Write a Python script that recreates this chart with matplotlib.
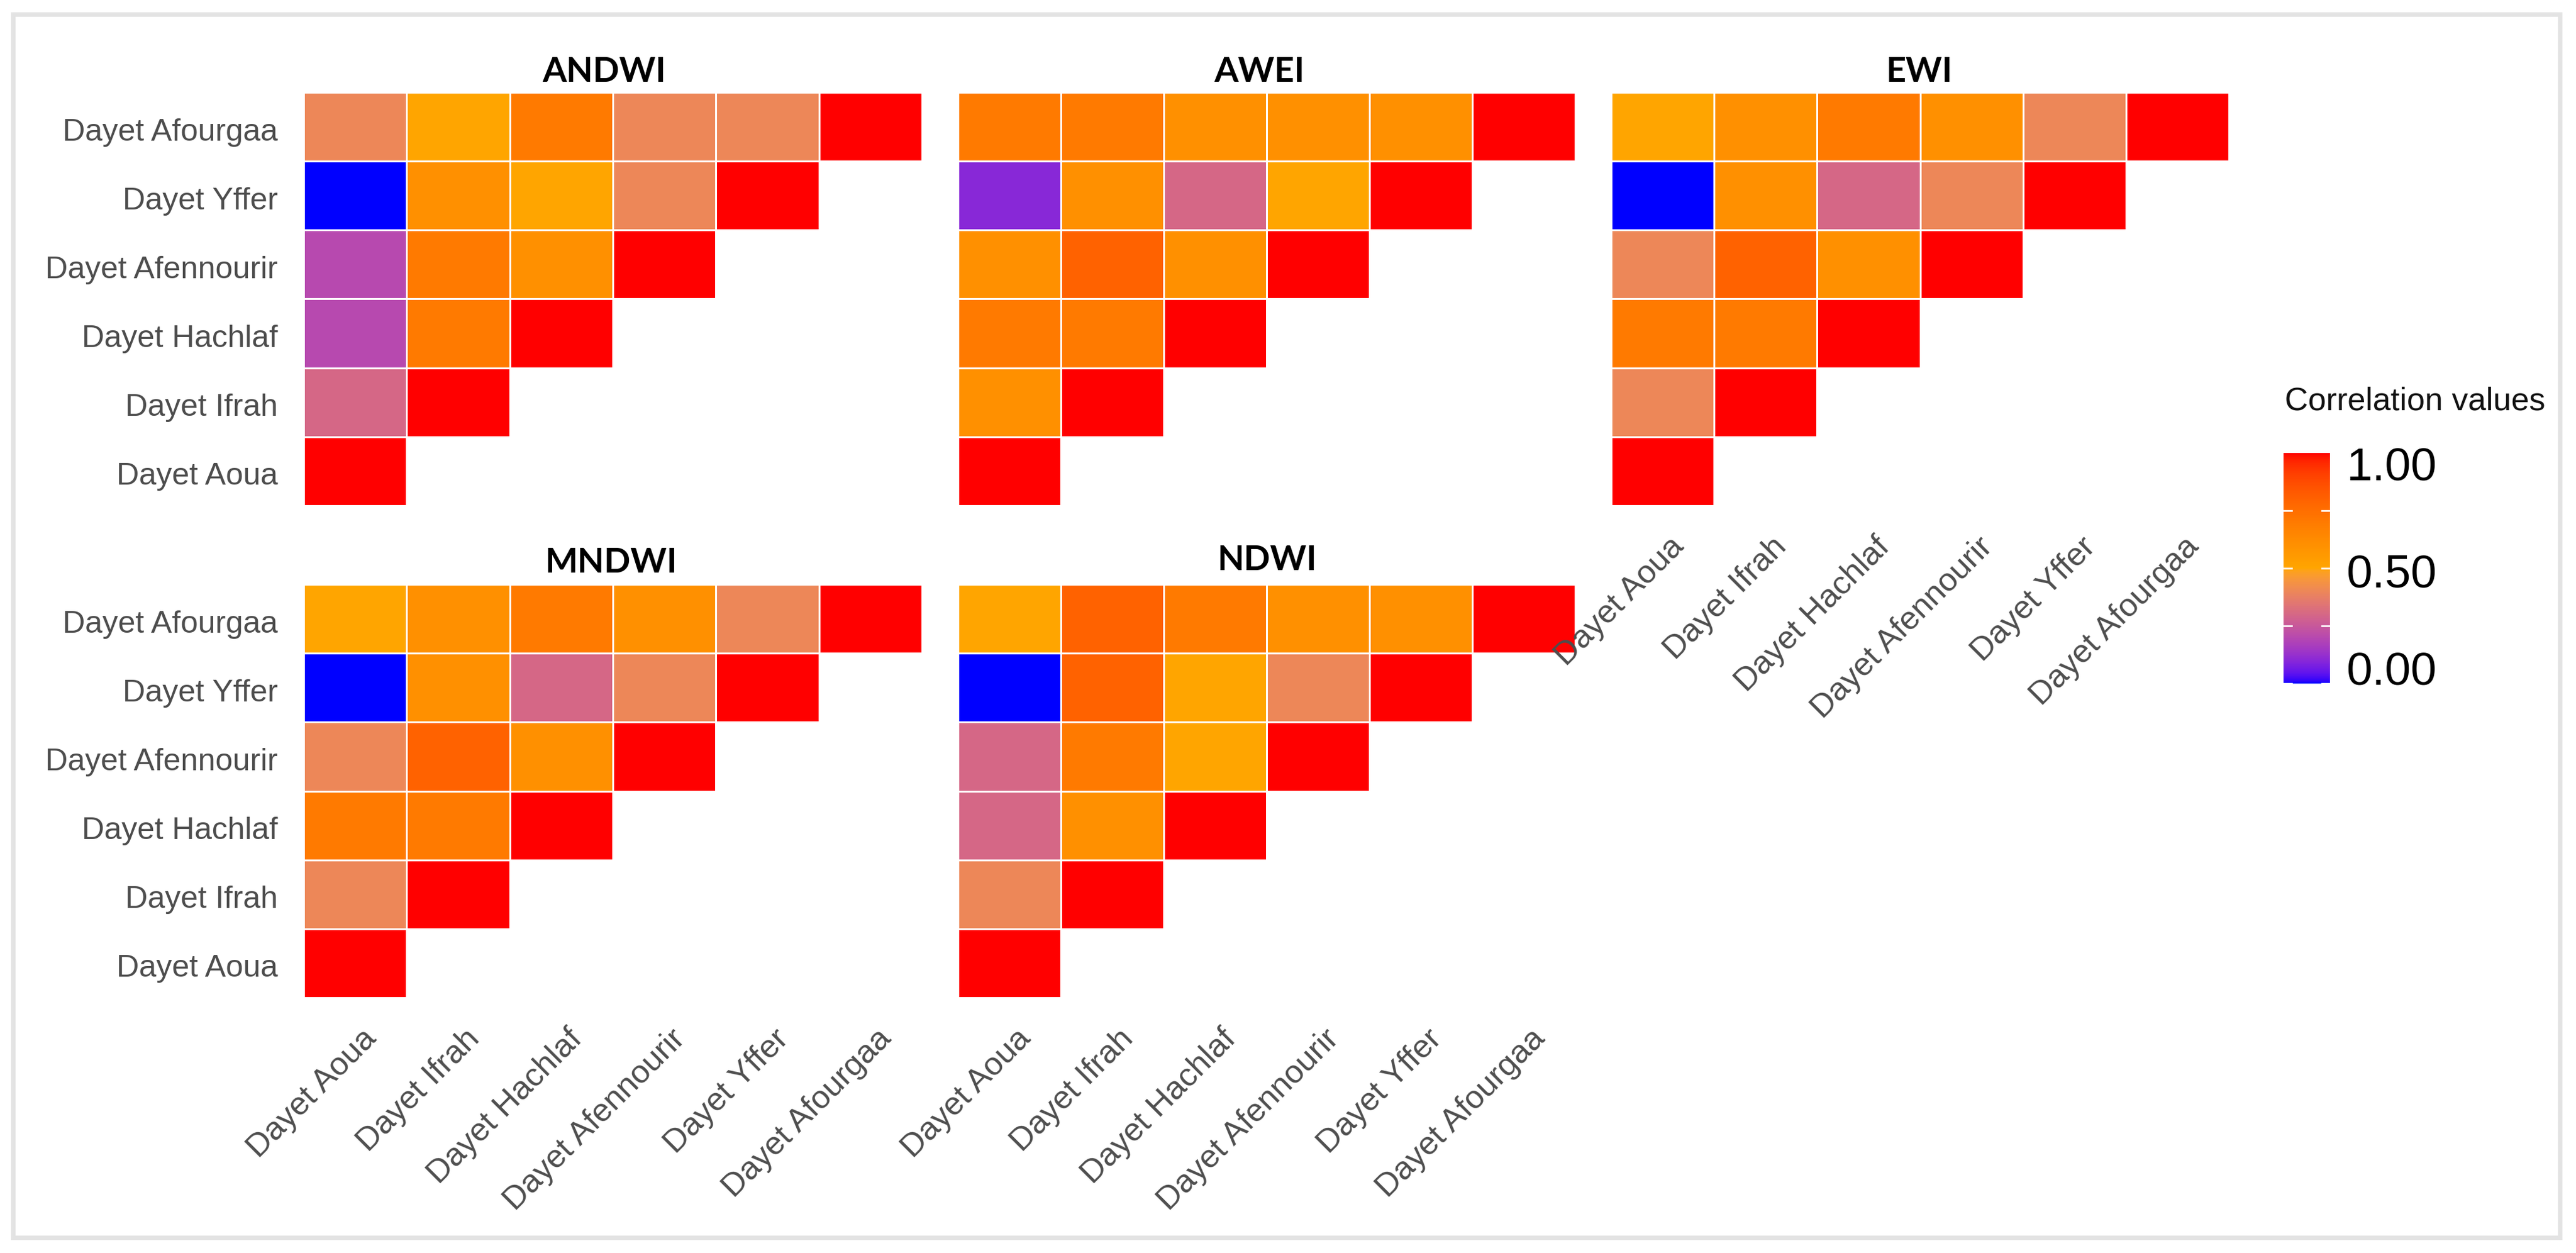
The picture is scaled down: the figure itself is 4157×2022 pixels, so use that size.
import numpy as np
import matplotlib
matplotlib.use('Agg')
import matplotlib.pyplot as plt
from matplotlib.colors import ListedColormap, to_rgb
from matplotlib.patches import Rectangle
from matplotlib.transforms import ScaledTranslation
from matplotlib.font_manager import FontProperties

W, H = 4157, 2022
DPI = 300

lakes = ["Dayet Afourgaa", "Dayet Yffer", "Dayet Afennourir",
         "Dayet Hachlaf", "Dayet Ifrah", "Dayet Aoua"]
x_labels = lakes[::-1]

# rows run top to bottom, columns left to right (triangle only)
andwi = [[.4, .5, .7, .4, .4, 1], [0, .6, .5, .4, 1], [.2, .7, .6, 1], [.2, .7, 1], [.3, 1], [1]]
awei = [[.7, .7, .6, .6, .6, 1], [.1, .6, .3, .5, 1], [.6, .8, .6, 1], [.7, .7, 1], [.6, 1], [1]]
ewi = [[.5, .6, .7, .6, .4, 1], [0, .6, .3, .4, 1], [.4, .8, .6, 1], [.7, .7, 1], [.4, 1], [1]]
mndwi = [[.5, .6, .7, .6, .4, 1], [0, .6, .3, .4, 1], [.4, .8, .6, 1], [.7, .7, 1], [.4, 1], [1]]
ndwi = [[.5, .8, .7, .6, .6, 1], [0, .8, .5, .4, 1], [.3, .7, .5, 1], [.3, .6, 1], [.4, 1], [1]]

names = ["ANDWI", "AWEI", "EWI", "MNDWI", "NDWI"]
panels = [andwi, awei, ewi, mndwi, ndwi]

# panel boxes in pixels: left, right, top, bottom, title centre, title baseline
boxes = [(490, 1488, 149, 816, 975, 132),
         (1546, 2542, 149, 816, 2032, 132),
         (2600, 3597, 149, 816, 3097, 132),
         (490, 1488, 943, 1610, 986, 924),
         (1546, 2542, 943, 1610, 2045, 920)]


def srgb_to_lab(c):
    c = np.array(to_rgb(c))
    lin = np.where(c > 0.04045, ((c + 0.055) / 1.055) ** 2.4, c / 12.92)
    m = np.array([[.4124564, .3575761, .1804375],
                  [.2126729, .7151522, .0721750],
                  [.0193339, .1191920, .9503041]])
    xyz = m @ lin / np.array([.95047, 1.0, 1.08883])
    f = np.where(xyz > 0.008856, np.cbrt(xyz), 7.787 * xyz + 16 / 116)
    return np.array([116 * f[1] - 16, 500 * (f[0] - f[1]), 200 * (f[1] - f[2])])


def lab_to_srgb(lab):
    fy = (lab[0] + 16) / 116
    f = np.array([fy + lab[1] / 500, fy, fy - lab[2] / 200])
    xyz = np.where(f ** 3 > 0.008856, f ** 3, (f - 16 / 116) / 7.787) * np.array([.95047, 1.0, 1.08883])
    m = np.array([[3.2404542, -1.5371385, -.4985314],
                  [-.9692660, 1.8760108, .0415560],
                  [.0556434, -.2040259, 1.0572252]])
    lin = np.clip(m @ xyz, 0, 1)
    return np.where(lin > 0.0031308, 1.055 * lin ** (1 / 2.4) - 0.055, 12.92 * lin)


# same blue - orange - red ramp as ggplot, interpolated in Lab
low, mid, high = srgb_to_lab("#0000FF"), srgb_to_lab("#FFA500"), srgb_to_lab("#FF0000")
ramp = []
for t in np.linspace(0, 1, 256):
    if t < 0.5:
        ramp.append(lab_to_srgb(low + (mid - low) * t * 2))
    else:
        ramp.append(lab_to_srgb(mid + (high - mid) * (t - 0.5) * 2))
cmap = ListedColormap(ramp)

plt.rcParams['font.family'] = 'Liberation Sans'
title_font = FontProperties(family='Lato', weight='bold', size=13.4)

fig = plt.figure(figsize=(W / DPI, H / DPI), dpi=DPI, facecolor='white')


def add_box(left, right, top, bottom):
    return fig.add_axes([left / W, 1 - bottom / H, (right - left) / W, (bottom - top) / H])


# outer grey frame
fig.add_artist(Rectangle((20.5 / W, 1 - 1997 / H), 4110 / W, 1974 / H, transform=fig.transFigure,
                         fill=False, edgecolor='#E3E3E3', linewidth=1.75))

for i, (name, rows, box) in enumerate(zip(names, panels, boxes)):
    ax = add_box(*box[:4])
    ax.patch.set_visible(False)
    grid = np.full((6, 6), np.nan)
    for r, row in enumerate(rows):
        grid[5 - r, :len(row)] = row
    mesh = ax.pcolormesh(np.ma.masked_invalid(grid), cmap=cmap, vmin=0, vmax=1,
                         edgecolors='white', linewidth=0.7)
    ax.set_xlim(0, 6)
    ax.set_ylim(0, 6)
    for s in ax.spines.values():
        s.set_visible(False)
    ax.tick_params(length=0)
    ax.set_yticks(np.arange(6) + 0.5)
    ax.set_xticks(np.arange(6) + 0.5)
    # facets only label the outer edges
    if i in (0, 3):
        ax.set_yticklabels(lakes[::-1], fontsize=12.1, color='#4D4D4D')
        ax.tick_params(axis='y', pad=10)
        for lab in ax.get_yticklabels():
            lab.set_transform(lab.get_transform() + ScaledTranslation(0, -4 / DPI, fig.dpi_scale_trans))
    else:
        ax.set_yticklabels([])
    if i >= 2:
        ax.set_xticklabels(x_labels, fontsize=12.6, color='#4D4D4D', rotation=45,
                           ha='right', va='top', rotation_mode='anchor')
        ax.tick_params(axis='x', pad=10)
        for lab in ax.get_xticklabels():
            lab.set_transform(lab.get_transform() + ScaledTranslation(9 / DPI, 0, fig.dpi_scale_trans))
    else:
        ax.set_xticklabels([])
    if i == 2:
        ax.set_zorder(3)  # its labels run over the NDWI corner
    fig.text(box[4] / W, 1 - box[5] / H, name, ha='center', va='baseline',
             fontproperties=title_font, color='black')

# legend
cax = add_box(3685, 3760, 731, 1103)
cb = fig.colorbar(mesh, cax=cax)
cb.outline.set_visible(False)
cb.set_ticks([])
for v in (0, 0.25, 0.5, 0.75):
    cax.plot([0, 0.17], [v, v], color='white', linewidth=0.7, alpha=0.9, transform=cax.get_yaxis_transform(), clip_on=True)
    cax.plot([0.83, 1], [v, v], color='white', linewidth=0.7, alpha=0.9, transform=cax.get_yaxis_transform(), clip_on=True)
for y, lab in zip((748, 921, 1078), ("1.00", "0.50", "0.00")):
    fig.text(3786 / W, 1 - y / H, lab, ha='left', va='center_baseline', fontsize=18, color='black')
fig.text(3687 / W, 1 - 662 / H, "Correlation values", ha='left', va='baseline', fontsize=12.5, color='#111111')

fig.savefig('out.png', dpi=DPI)
plt.close(fig)
